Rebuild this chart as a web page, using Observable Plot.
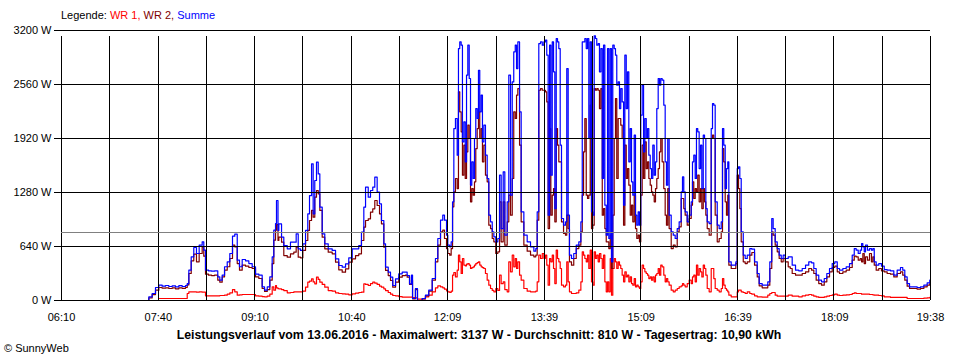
<!DOCTYPE html>
<html>
<head>
<meta charset="utf-8">
<script src="https://cdn.jsdelivr.net/npm/d3@7"></script>
<script src="https://cdn.jsdelivr.net/npm/@observablehq/plot@0.6"></script>
<style>
  html, body { margin: 0; padding: 0; background: #fff; }
  #wrap { position: relative; width: 960px; height: 360px; background: #fff; font-family: "Liberation Sans", Arial, sans-serif; color: #000; overflow: hidden; }
  #legend { position: absolute; left: 61px; top: 8px; font-size: 11px; line-height: 14px; white-space: nowrap; }
  #caption { position: absolute; left: 0; width: 958px; top: 328px; text-align: center; font-size: 12.3px; font-weight: bold; line-height: 14px; white-space: nowrap; }
  #credit { position: absolute; left: 4px; top: 341px; font-size: 11px; line-height: 14px; white-space: nowrap; }
  #chart { position: absolute; left: 0; top: 0; }
</style>
</head>
<body>
<div id="wrap">
  <div id="chart"></div>
  <div id="legend"></div>
  <div id="caption"></div>
  <div id="credit"></div>
</div>
<script>
// ---- DATA ----
// sample times, minutes since midnight
const timeMin = [
448.1,451.2,454.3,457.4,460.5,463.6,466.7,469.8,472.9,476.0,479.1,482.2,485.3,486.9,488.4,490.6,493.0,495.5,498.0,500.8,
502.3,503.9,506.7,509.5,512.3,515.3,517.2,519.4,521.6,524.1,526.5,529.0,531.1,533.4,535.5,538.0,541.1,544.2,547.3,550.4,
553.5,556.6,558.8,561.3,563.7,565.9,567.4,569.0,569.9,571.3,572.1,574.6,576.7,579.9,582.9,586.0,588.2,590.1,592.2,594.4,
596.9,599.0,600.6,602.5,604.0,605.5,607.1,608.7,610.2,612.4,614.8,618.0,621.7,624.8,627.8,631.0,634.1,637.1,640.3,643.4,
646.4,648.9,651.1,652.7,655.2,657.3,659.4,661.3,663.5,665.7,667.5,669.7,671.3,673.8,675.9,678.0,680.6,683.6,686.8,689.8,
691.4,693.6,695.4,696.4,699.1,701.0,703.8,705.4,708.4,711.5,714.7,717.7,719.9,722.4,724.5,726.1,728.0,729.2,731.0,732.3,
733.6,734.8,736.3,737.9,739.1,740.3,741.6,742.8,744.1,745.4,746.6,747.8,749.1,750.3,751.5,752.8,754.0,755.2,756.5,757.7,
758.9,760.2,761.4,762.7,764.2,765.8,767.3,768.9,770.5,772.0,773.8,775.7,777.3,778.8,780.7,782.2,784.4,785.9,787.5,789.1,
790.5,791.9,793.1,794.3,795.9,797.4,799.9,803.0,806.1,809.2,811.0,812.3,813.8,815.4,817.0,818.5,820.0,821.2,822.5,823.8,
825.0,826.3,827.5,828.7,830.0,831.2,832.4,833.7,834.9,836.8,838.6,839.8,841.1,842.3,844.2,846.3,848.6,851.0,852.9,854.2,
855.4,856.6,857.9,859.1,860.3,861.6,862.8,864.0,865.3,866.5,867.7,869.0,870.2,871.5,872.8,874.0,875.2,876.5,877.7,878.9,
880.2,881.4,882.6,883.9,885.1,886.3,887.6,888.8,890.0,891.3,892.6,893.8,895.1,896.3,897.5,898.8,900.0,901.2,902.5,903.7,
904.9,906.2,907.4,908.6,909.9,911.2,912.4,913.7,914.9,916.1,917.4,918.6,919.8,921.1,922.3,923.5,924.8,926.0,927.2,928.5,
930.0,931.3,932.5,933.7,935.0,936.9,938.8,940.6,942.5,944.3,946.2,947.4,948.6,949.9,951.8,953.6,955.5,956.7,957.9,959.2,
960.4,961.6,962.9,964.2,965.4,966.7,967.9,969.1,970.4,972.2,974.1,975.3,976.5,977.8,979.7,981.5,983.4,984.6,985.8,987.1,
988.3,989.5,990.5,992.7,995.1,997.0,998.3,999.5,1000.7,1002.0,1003.9,1005.7,1007.6,1010.0,1011.9,1014.4,1016.9,1018.7,1021.5,1024.6,
1026.7,1028.6,1030.4,1031.7,1033.6,1035.5,1037.3,1039.2,1041.0,1042.9,1045.7,1047.6,1049.4,1052.5,1055.5,1058.7,1061.8,1064.8,1067.4,1069.5,
1071.7,1074.1,1076.7,1079.2,1081.6,1084.1,1086.6,1089.0,1091.3,1093.4,1096.5,1099.6,1102.7,1105.2,1107.1,1108.9,1110.8,1112.6,1113.9,1115.1,
1116.4,1117.6,1119.4,1121.3,1123.1,1124.4,1125.7,1127.5,1129.9,1132.4,1135.0,1137.7,1140.8,1143.9,1147.0,1150.1,1152.2,1154.1,1156.3,1158.5,
1162.5,1165.6,1168.7,1171.8,1174.9,1177.3
];
// Summe (W)
const summe = [
0,43,83,154,182,170,178,166,174,162,176,166,178,200,360,517,628,557,656,695,
596,360,352,348,352,280,241,300,400,458,557,762,786,478,400,486,470,438,400,312,
300,162,122,162,280,517,833,912,1185,830,908,750,652,612,691,691,790,612,593,672,
830,1027,1244,1620,1027,1422,1640,1500,1106,790,672,612,593,494,415,395,434,506,612,612,
652,810,1106,1343,1225,1304,1343,1462,1284,1146,948,672,395,336,277,178,257,316,336,336,
296,198,300,24,142,0,0,24,63,122,261,498,735,952,1011,952,774,656,636,695,
1169,2038,2157,1722,2986,3065,3026,1880,2117,1643,2670,3026,2631,1367,1643,1446,1920,2275,2157,2729,
2236,2433,1880,2078,1722,1446,1011,932,814,754,695,735,1485,853,1525,774,1169,2670,1248,2591,
2947,3026,2749,3065,2236,1051,774,695,636,585,616,1051,3045,3065,3026,3065,3085,2907,1011,3026,
1485,3065,2710,1090,3105,3065,2986,1841,972,893,932,2749,1011,537,498,557,656,695,932,3065,
3065,3105,2986,3105,1920,3065,1051,1011,3137,3105,3026,3045,2710,2986,1446,3026,1130,774,2986,735,
2986,458,3026,2986,2907,2552,2591,2275,2512,2354,1130,2907,2275,2710,1643,2038,1406,1248,1959,1011,
893,1051,893,2196,2552,1762,2157,1920,2038,1722,1564,1446,1841,1485,1643,2275,2631,2552,2631,2611,
2315,1643,1367,1920,1011,814,774,735,853,932,1288,1465,1288,1051,932,1011,1169,1643,1722,1446,
2038,1999,1564,1841,1327,1959,1920,1090,932,912,2038,2334,2315,1169,893,853,932,2038,1841,1327,
1564,1643,458,419,419,458,1564,1584,1446,814,537,498,537,616,608,458,320,201,182,182,
221,458,972,853,695,616,537,498,537,498,517,517,419,359,352,379,419,458,446,379,
300,241,221,261,320,379,438,458,379,359,379,399,438,537,616,596,557,596,675,636,
577,656,596,616,596,616,458,419,438,407,367,359,352,300,359,391,359,280,201,162,
162,154,162,182,209,241
];
// WR 2 (W)
const wr2 = [
0,30,70,122,154,146,150,142,150,138,150,144,154,185,320,470,549,458,557,636,
525,312,300,296,300,241,217,280,360,400,498,656,636,438,360,419,407,391,379,280,
261,142,107,130,241,438,715,833,900,711,750,691,533,514,553,573,632,514,506,593,
711,830,948,1067,988,1225,1304,1264,1067,750,612,573,553,454,363,336,375,454,494,533,
553,711,869,948,968,1047,1087,1185,1126,1027,909,632,356,296,237,158,217,277,296,300,
277,190,240,20,130,0,0,20,55,110,241,458,656,814,833,735,616,557,537,616,
1110,1288,1446,1327,2473,2236,1999,1485,1841,1446,1762,2078,1920,1169,1327,1248,1406,1801,2038,2236,
1920,2038,1643,1841,1485,1406,893,853,735,695,557,577,1169,695,1169,656,932,1248,1011,1446,
2236,2157,2433,2512,1841,932,656,585,537,518,537,952,2492,2512,2492,2492,2473,2354,853,2038,
1011,1248,1327,932,2038,1841,1643,1643,932,794,774,1011,853,458,419,498,616,656,814,1248,
1762,2157,1248,1209,1248,2315,853,893,2512,2492,2512,2492,2275,2512,1011,1090,853,695,695,616,
774,379,1011,1920,2394,1446,2157,2157,2078,1920,893,1841,1446,1564,1367,1011,1130,932,1248,853,
735,774,695,1248,1841,1446,1880,1564,1643,1446,1367,1288,1248,1169,1327,1446,1564,1762,1920,1643,
1327,1011,893,1327,853,616,656,636,814,873,1209,1209,1090,1011,893,972,1130,1406,1209,1327,
1288,1485,1169,1327,1090,1327,1169,1011,853,774,1920,1959,1920,1011,695,735,814,1801,1643,1169,
1011,1248,419,379,379,438,1485,1327,1090,695,458,438,458,537,569,419,280,174,150,150,
182,379,814,774,656,577,498,458,498,458,399,379,320,300,300,320,340,379,359,320,
241,201,182,221,280,340,391,407,340,320,340,359,391,478,525,517,478,498,458,557,
438,517,478,557,458,517,419,359,379,352,340,320,312,280,320,340,300,241,170,142,
142,134,142,162,182,201
];
// WR 1 (W)
const wr1 = [
null,null,null,null,24,24,24,24,24,24,24,24,24,83,103,103,103,99,103,99,
99,55,55,55,55,55,59,59,63,75,91,130,103,63,67,71,71,71,71,55,
51,47,43,51,75,162,122,178,150,140,138,130,118,91,95,103,103,103,103,110,
158,217,230,257,220,198,277,250,217,190,158,118,110,91,83,79,75,67,79,87,
95,99,198,190,178,200,217,205,190,170,158,138,118,95,75,59,55,47,40,40,
40,40,40,35,30,16,16,20,43,63,103,150,174,162,150,134,115,103,95,110,
300,332,280,359,537,458,320,498,420,411,430,438,420,379,390,399,420,438,450,458,
420,399,390,379,320,241,182,142,120,103,142,120,300,200,221,130,103,458,340,537,
399,498,379,458,300,241,142,111,103,103,110,221,537,498,557,500,537,419,182,498,
458,537,379,201,596,498,458,379,182,162,182,458,221,103,83,83,91,122,221,577,
537,498,458,537,379,596,221,182,577,498,537,458,557,498,379,537,221,103,221,103,
498,63,379,498,458,379,458,419,379,300,221,340,280,300,221,280,201,182,260,162,
182,162,142,221,419,379,340,320,300,260,280,241,280,221,300,320,379,300,419,399,
300,221,260,221,182,122,103,122,142,162,174,201,182,162,201,241,201,280,300,221,
419,300,379,340,280,419,379,300,142,103,379,379,260,142,122,103,142,260,182,142,
122,103,63,43,43,43,103,122,122,103,95,83,103,83,75,55,43,43,40,40,
63,83,95,95,63,51,51,51,51,51,63,63,51,51,43,55,63,71,63,51,
43,36,36,43,51,59,67,75,63,59,63,67,71,83,91,83,83,83,75,75,
75,75,75,71,71,67,63,63,59,55,43,43,36,36,36,36,36,36,24,24,
24,24,24,28,32,36
];
const yTicks = [0, 640, 1280, 1920, 2560, 3200];
const xLabels = ["06:10", "07:40", "09:10", "10:40", "12:09", "13:39", "15:09", "16:39", "18:09", "19:38"];
const average = 810;
const legendParts = [["Legende: ", "#000000"], ["WR 1, ", "#ff0000"], ["WR 2, ", "#800000"], ["Summe", "#0000ff"]];
const captionText = "Leistungsverlauf vom 13.06.2016 - Maximalwert: 3137 W - Durchschnitt: 810 W - Tagesertrag: 10,90 kWh";
const creditText = "\u00A9 SunnyWeb";

// ---- BUILD ----
const rows = timeMin.map((t, i) => ({t, wr1: wr1[i], wr2: wr2[i], summe: summe[i]}));
const toMin = s => { const [h, m] = s.split(":").map(Number); return h * 60 + m; };
const xTickTimes = xLabels.map(toMin);
const labelOf = new Map(xTickTimes.map((t, i) => [t, xLabels[i]]));
const x0 = xTickTimes[0], x1 = xTickTimes[xTickTimes.length - 1];
const nGrid = (xLabels.length - 1) * 2;
const xGrid = d3.range(nGrid + 1).map(i => x0 + i * (x1 - x0) / nGrid);

const chart = Plot.plot({
  width: 960,
  height: 330,
  marginLeft: 61,
  marginRight: 30,
  marginTop: 30,
  marginBottom: 30,
  style: {fontFamily: "'Liberation Sans', Arial, sans-serif", fontSize: "11px", color: "#000", background: "transparent", overflow: "visible"},
  x: {domain: [x0, x1], axis: null},
  y: {domain: [0, 3200], axis: null},
  marks: [
    Plot.line(rows, {x: "t", y: "wr1", stroke: "#ff0000", strokeWidth: 1.2, curve: "step-after"}),
    Plot.line(rows, {x: "t", y: "wr2", stroke: "#800000", strokeWidth: 1.2, curve: "step-after"}),
    Plot.line(rows, {x: "t", y: "summe", stroke: "#0000ff", strokeWidth: 1.2, curve: "step-after"}),
    Plot.ruleY(yTicks, {stroke: "#000", strokeWidth: 1, shapeRendering: "crispEdges"}),
    Plot.ruleX(xGrid, {y1: 0, y2: 3200, insetBottom: -6, stroke: "#000", strokeWidth: 1, shapeRendering: "crispEdges"}),
    Plot.ruleY([average], {stroke: "#808080", strokeWidth: 1, shapeRendering: "crispEdges"}),
    Plot.axisY(yTicks, {tickFormat: d => `${d} W`, tickSize: 7, tickPadding: 3, fontSize: 11, label: null, shapeRendering: "crispEdges"}),
    Plot.axisX(xTickTimes, {tickFormat: d => labelOf.get(d), tickSize: 0, tickPadding: 13, fontSize: 11, label: null})
  ]
});
document.getElementById("chart").appendChild(chart);

const legend = document.getElementById("legend");
for (const [txt, col] of legendParts) {
  const s = document.createElement("span");
  s.textContent = txt;
  s.style.color = col;
  s.style.whiteSpace = "pre";
  legend.appendChild(s);
}
document.getElementById("caption").textContent = captionText;
document.getElementById("credit").textContent = creditText;
</script>
</body>
</html>
